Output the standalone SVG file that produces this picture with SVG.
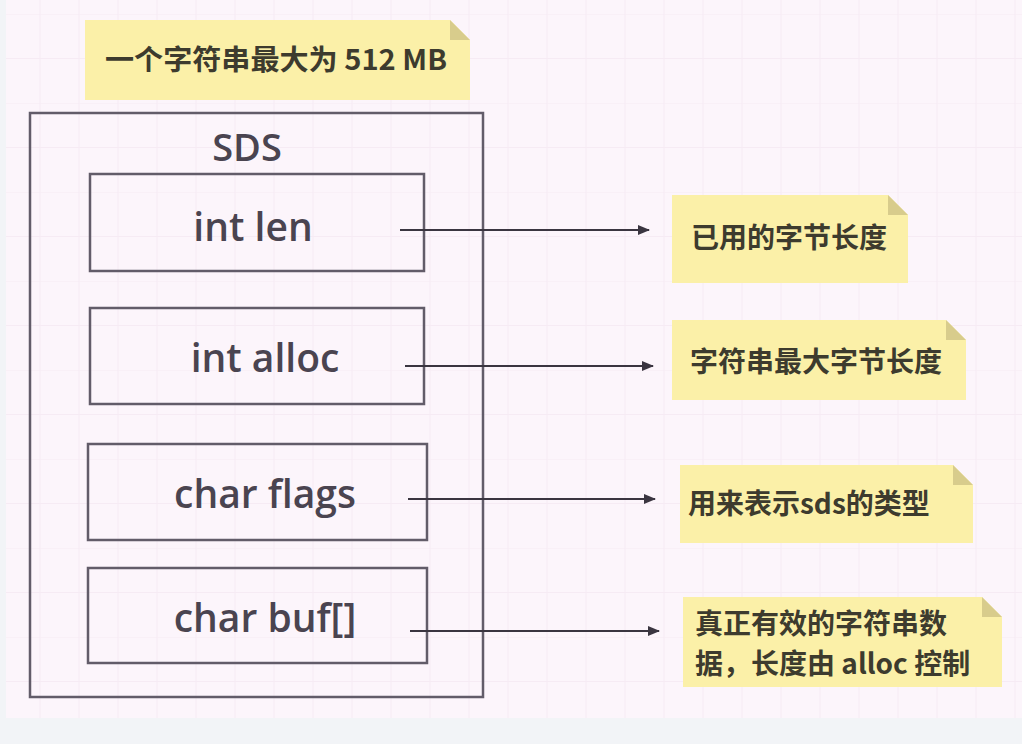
<svg xmlns="http://www.w3.org/2000/svg" width="1022" height="744" viewBox="0 0 1022 744">
<defs>
<pattern id="grid" x="0" y="14" width="78" height="89" patternUnits="userSpaceOnUse">
<path d="M0 0H78M0 44.5H78M1 0V89M40 0V89" fill="none" stroke="#f6ebf4" stroke-width="1"/>
</pattern>
<marker id="arr" viewBox="0 0 12 10" refX="11" refY="5" markerWidth="12" markerHeight="10" markerUnits="userSpaceOnUse" orient="auto">
<path d="M0 0L12 5L0 10Z" fill="#3a3540"/>
</marker>
</defs>
<style>
.bg{fill:#fcf5fb}
.box{fill:none;stroke:#625c69;stroke-width:2.5}
.lbl{font-family:"Open Sans","Noto Sans",sans-serif;font-weight:600;fill:#4a4450;text-anchor:middle;dominant-baseline:central}
.note{fill:#fbf0a8}
.fold{fill:#d8cc8c}
.nt{font-family:"Noto Sans CJK SC","Noto Sans",sans-serif;font-weight:700;font-size:28px;fill:#3d3b2e;dominant-baseline:central}
.conn{stroke:#3a3540;stroke-width:2;fill:none;marker-end:url(#arr)}
</style>
<rect class="bg" x="0" y="0" width="1022" height="744"/>
<rect fill="url(#grid)" x="6" y="0" width="1016" height="718"/>
<rect fill="#f2f4f7" x="0" y="718" width="1022" height="26"/>
<rect fill="#f2f4f7" x="0" y="0" width="6" height="718"/>

<g id="note-max">
<path class="note" d="M85 20H450L470 40V100H85Z"/>
<path class="fold" d="M450 20V40H470Z"/>
<text class="nt" x="105" y="58" textLength="342" lengthAdjust="spacingAndGlyphs">一个字符串最大为 512 MB</text>
</g>

<g id="sds">
<rect class="box" x="30" y="113" width="453" height="584"/>
<text class="lbl" x="247" y="146" font-size="38">SDS</text>
</g>
<g id="len">
<rect class="box" x="90" y="174" width="334" height="97"/>
<text class="lbl" x="253" y="225" font-size="39">int len</text>
</g>
<g id="alloc">
<rect class="box" x="90" y="308" width="334" height="96"/>
<text class="lbl" x="265" y="356" font-size="39">int alloc</text>
</g>
<g id="flags">
<rect class="box" x="88" y="444" width="339" height="96"/>
<text class="lbl" x="265" y="492" font-size="39">char flags</text>
</g>
<g id="buf">
<rect class="box" x="88" y="568" width="339" height="95"/>
<text class="lbl" x="265" y="616" font-size="39">char buf[]</text>
</g>

<g id="connectors">
<line class="conn" x1="400" y1="230" x2="649" y2="230"/>
<line class="conn" x1="405" y1="366" x2="653" y2="366"/>
<line class="conn" x1="408" y1="499" x2="655" y2="499"/>
<line class="conn" x1="410" y1="631" x2="659" y2="631"/>
</g>

<g id="note-len">
<path class="note" d="M672 195H888L908 215V283H672Z"/>
<path class="fold" d="M888 195V215H908Z"/>
<text class="nt" x="691" y="236">已用的字节长度</text>
</g>
<g id="note-alloc">
<path class="note" d="M672 320H946L966 340V400H672Z"/>
<path class="fold" d="M946 320V340H966Z"/>
<text class="nt" x="690" y="360">字符串最大字节长度</text>
</g>
<g id="note-flags">
<path class="note" d="M680 465H953L973 485V543H680Z"/>
<path class="fold" d="M953 465V485H973Z"/>
<text class="nt" x="688" y="502">用来表示sds的类型</text>
</g>
<g id="note-buf">
<path class="note" d="M683 597H982L1002 617V687H683Z"/>
<path class="fold" d="M982 597V617H1002Z"/>
<text class="nt" x="695" y="622">真正有效的字符串数</text>
<text class="nt" x="695" y="662">据，长度由 alloc 控制</text>
</g>
</svg>
